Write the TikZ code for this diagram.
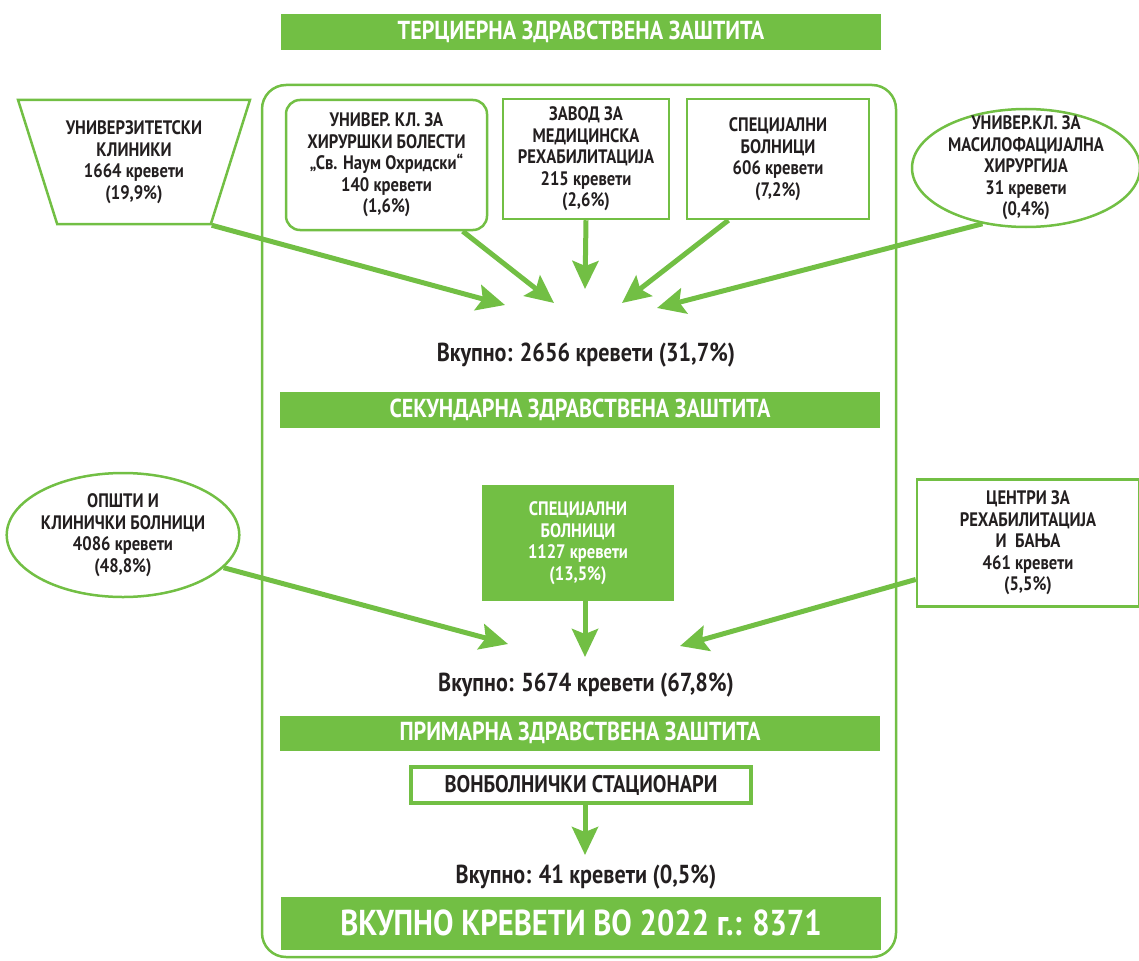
\documentclass[tikz,border=0pt]{standalone}
\usepackage{fontspec}
\setmainfont{PT Sans}[FakeStretch=0.85]
\usetikzlibrary{shapes.geometric, arrows.meta, positioning}
\definecolor{grn}{RGB}{114,191,68}
\definecolor{ink}{RGB}{35,31,32}

\begin{document}
\begin{tikzpicture}[x=1pt, y=-1pt,
    arr/.style={draw=grn, line width=5pt, -{Stealth[length=28pt, width=26pt, inset=5pt]}},
    band/.style={fill=grn, minimum width=600pt, inner sep=0pt, text=white, font=\bfseries\fontsize{26}{29}\selectfont},
    box/.style={draw=grn, line width=2.5pt, align=center, text=ink, inner sep=0pt, font=\bfseries\fontsize{19.5}{21.5}\selectfont},
    total/.style={text=ink, font=\bfseries\fontsize{26}{29}\selectfont}]

    \useasboundingbox (0,0) rectangle (1139,960);

    % терциерна
    \node[band, minimum height=36pt] (terc) at (581,32) {ТЕРЦИЕРНА ЗДРАВСТВЕНА ЗАШТИТА};
    \draw[grn, line width=2.5pt, rounded corners=24pt] (262,85) rectangle (896,957);

    \node[box, trapezium, trapezium angle=67.8, shape border rotate=180, trapezium stretches=true,
          inner sep=3pt, minimum width=232pt, minimum height=124pt] (univ) at (134,162) {
        УНИВЕРЗИТЕТСКИ\\ КЛИНИКИ\\ 1664 кревети\\ (19,9\%)};
    \node[box, rounded corners=14pt, minimum width=201pt, minimum height=130pt] (hir) at (386.5,165) {
        УНИВЕР. КЛ. ЗА\\ ХИРУРШКИ БОЛЕСТИ\\ „Св. Наум Охридски“\\ 140 кревети\\ (1,6\%)};
    \node[box, minimum width=166pt, minimum height=120pt] (zavod) at (586,159) {
        ЗАВОД ЗА\\ МЕДИЦИНСКА\\ РЕХАБИЛИТАЦИЈА\\ 215 кревети\\ (2,6\%)};
    \node[box, minimum width=182pt, minimum height=120pt] (spec) at (778,159) {
        СПЕЦИЈАЛНИ\\ БОЛНИЦИ\\ 606 кревети\\ (7,2\%)};
    \node[box, ellipse, inner ysep=-12pt, minimum width=228pt, minimum height=118pt] (masil) at (1026,168) {
        УНИВЕР.КЛ. ЗА\\ МАСИЛОФАЦИЈАЛНА\\ ХИРУРГИЈА\\ 31 кревети\\ (0,4\%)};

    \coordinate (t1) at (505,305);
    \coordinate (t2) at (554,303);
    \coordinate (t3) at (585,289);
    \coordinate (t4) at (622,303);
    \coordinate (t5) at (657,308);
    \draw[arr] (univ.top left corner) -- (t1);
    \draw[arr] (hir.319) -- (t2);
    \draw[arr] (zavod.south) -- (t3);
    \draw[arr] (spec.231) -- (t4);
    \draw[arr] (masil.232) -- (t5);

    \node[total] (sum1) at (586,355) {Вкупно: 2656 кревети (31,7\%)};

    % секундарна
    \node[band, minimum height=36pt] (sek) at (580,410) {СЕКУНДАРНА ЗДРАВСТВЕНА ЗАШТИТА};

    \node[box, ellipse, minimum width=232pt, minimum height=124pt] (opsti) at (123,535) {
        ОПШТИ И\\ КЛИНИЧКИ БОЛНИЦИ\\ 4086 кревети\\ (48,8\%)};
    \node[box, fill=grn, text=white, minimum width=190pt, minimum height=113pt] (spec2) at (578,543) {
        СПЕЦИЈАЛНИ\\ БОЛНИЦИ\\ 1127 кревети\\ (13,5\%)};
    \node[box, minimum width=222pt, minimum height=127pt] (centri) at (1028,543) {
        ЦЕНТРИ ЗА\\ РЕХАБИЛИТАЦИЈА\\ И~~БАЊА\\ 461 кревети\\ (5,5\%)};

    \coordinate (t6) at (508,644);
    \coordinate (t7) at (585,657);
    \coordinate (t8) at (680,646);
    \draw[arr] (opsti.342) -- (t6);
    \draw[arr] (spec2.south -| t7) -- (t7);
    \draw[arr] (centri.198) -- (t8);

    \node[total] (sum2) at (586,685) {Вкупно: 5674 кревети (67,8\%)};

    % примарна
    \node[band, minimum height=35pt] (prim) at (580,733) {ПРИМАРНА ЗДРАВСТВЕНА ЗАШТИТА};
    \node[box, line width=4pt, minimum width=340pt, minimum height=36pt, font=\bfseries\fontsize{24}{26}\selectfont] (vonb) at (581,785) {ВОНБОЛНИЧКИ СТАЦИОНАРИ};
    \coordinate (t9) at (585,855);
    \draw[arr] (vonb.south -| t9) -- (t9);

    \node[total] (sum3) at (586,877) {Вкупно: 41 кревети (0,5\%)};

    \node[band, minimum height=53pt, font=\bfseries\fontsize{36}{40}\selectfont] (vkupno) at (581,923) {ВКУПНО КРЕВЕТИ ВО 2022 г.: 8371};
\end{tikzpicture}
\end{document}
